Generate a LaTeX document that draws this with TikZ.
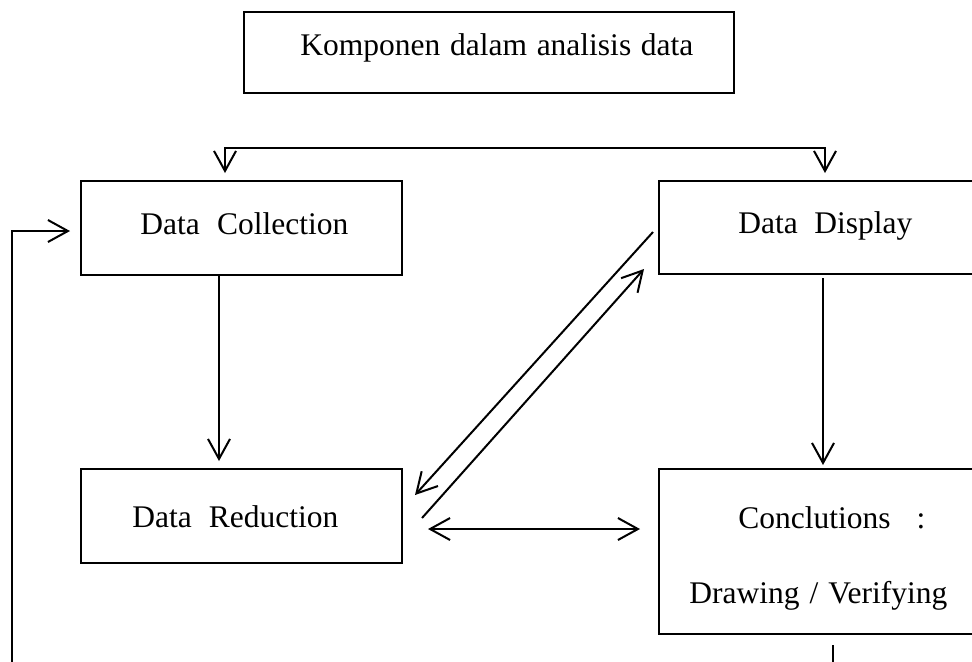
\documentclass[tikz,border=0pt]{standalone}
\usepackage{fontspec}
\setmainfont{Liberation Serif}
\usetikzlibrary{arrows.meta}
\begin{document}
\begin{tikzpicture}[x=0.5pt,y=-0.5pt,
  box/.style={draw,line width=1pt,inner sep=0pt,anchor=north west},
  txt/.style={inner sep=0pt,font=\fontsize{15.75}{19}\selectfont},
  arr/.style={line width=1pt,-{Straight Barb[length=10pt,width=11pt,line width=1pt]}},
  darr/.style={line width=1pt,{Straight Barb[length=10pt,width=11pt,line width=1pt]}-{Straight Barb[length=10pt,width=11pt,line width=1pt]}},
  ln/.style={line width=1pt}]
\useasboundingbox (0,0) rectangle (972,661);
\clip (0,0) rectangle (972,661);
% boxes
\node[box,line width=1.2pt,minimum width=245pt,minimum height=40.5pt] (title) at (243,11) {};
\node[box,minimum width=160.5pt,minimum height=47pt] (dc) at (80,180) {};
\node[box,minimum width=160.5pt,minimum height=47pt] (dr) at (80,468) {};
\node[box,minimum width=170pt,minimum height=46.5pt] (dd) at (658,180) {};
\node[box,minimum width=170pt,minimum height=82.5pt] (cc) at (658,468) {};
% texts
\node[txt,anchor=base west] (ttitle) at (300,55) {\makebox[196.5pt][s]{Komponen dalam analisis data}};
\node[txt,anchor=base west] (tdc) at (140,234) {\makebox[104pt][s]{Data Collection}};
\node[txt,anchor=base west] (tdr) at (132,527) {\makebox[103pt][s]{Data Reduction}};
\node[txt,anchor=base west] (tdd) at (738,233) {\makebox[87pt][s]{Data Display}};
\node[txt,anchor=base west] (tcc1) at (738,528) {\makebox[93.5pt][s]{Conclutions :}};
\node[txt,anchor=base west] (tcc2) at (689,603) {\makebox[129pt][s]{Drawing / Verifying}};
% helper coordinates
\coordinate (topl) at (225,148);
\coordinate (topr) at (825,148);
\coordinate (colL) at (219,0);
\coordinate (colR) at (823,0);
\coordinate (d1s) at (653,232);
\coordinate (d1e) at (415,495);
\coordinate (d2s) at (422,518);
\coordinate (d2e) at (644,269);
\coordinate (hl) at (428,529);
\coordinate (hr) at (640,529);
\coordinate (outR) at (833,645);
\coordinate (botR) at (833,700);
\coordinate (botL) at (12,700);
\coordinate (upL) at (12,231);
% connectors
\draw[darr] ([yshift=3.5pt]dc.north -| topl) -- (topl) -- (topr) -- ([yshift=3.5pt]dd.north -| topr);
\draw[arr] (dc.south -| colL) -- ([yshift=3.5pt]dr.north -| colL);
\draw[arr] ([yshift=-1.5pt]dd.south -| colR) -- ([yshift=1.5pt]cc.north -| colR);
\draw[arr] (d1s) -- (d1e);
\draw[arr] (d2s) -- (d2e);
\draw[darr] (hl) -- (hr);
\draw[arr] (outR) -- (botR) -- (botL) -- (upL) -- ([xshift=-5pt]upL -| dc.west);
\end{tikzpicture}
\end{document}
